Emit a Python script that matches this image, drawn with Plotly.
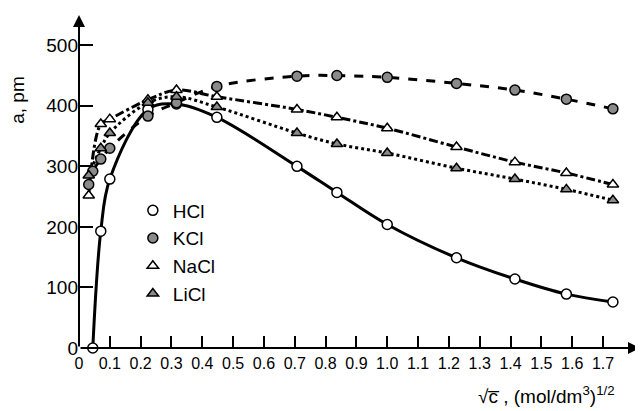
import plotly.graph_objects as go

# sqrt(c) values, (mol/dm3)^1/2
x_hcl = [0.0447, 0.0707, 0.1, 0.2236, 0.3162, 0.4472, 0.7071, 0.8367, 1.0, 1.2247, 1.4142, 1.5811, 1.7321]
y_hcl = [0, 193, 279, 394, 403, 381, 300, 257, 204, 149, 114, 89, 76]

x_kcl = [0.0316, 0.0447, 0.0707, 0.1, 0.2236, 0.3162, 0.4472, 0.7071, 0.8367, 1.0, 1.2247, 1.4142, 1.5811, 1.7321]
y_kcl = [270, 292, 312, 330, 383, 405, 432, 449, 450, 447, 437, 426, 411, 395]

x_nacl = [0.0316, 0.0707, 0.1, 0.2236, 0.3162, 0.4472, 0.7071, 0.8367, 1.0, 1.2247, 1.4142, 1.5811, 1.7321]
y_nacl = [252, 370, 378, 410, 426, 415, 394, 381, 363, 332, 307, 289, 270]

x_licl = [0.0316, 0.0707, 0.1, 0.2236, 0.3162, 0.4472, 0.7071, 0.8367, 1.0, 1.2247, 1.4142, 1.5811, 1.7321]
y_licl = [285, 330, 355, 405, 415, 398, 355, 337, 322, 297, 279, 262, 244]

x_ticks = [0, 0.1, 0.2, 0.3, 0.4, 0.5, 0.6, 0.7, 0.8, 0.9, 1.0, 1.1, 1.2, 1.3, 1.4, 1.5, 1.6, 1.7]
x_ticktext = ["0", "0.1", "0.2", "0.3", "0.4", "0.5", "0.6", "0.7", "0.8", "0.9", "1.0", "1.1", "1.2", "1.3", "1.4", "1.5", "1.6", "1.7"]
y_ticks = [0, 100, 200, 300, 400, 500]

FONT = "Liberation Sans, Arial, sans-serif"

series = [
    ("HCl", x_hcl, y_hcl, "solid", "circle", "white"),
    ("KCl", x_kcl, y_kcl, "dash", "circle", "#8a8a8a"),
    ("NaCl", x_nacl, y_nacl, "dashdot", "triangle-up", "white"),
    ("LiCl", x_licl, y_licl, "dot", "triangle-up", "#8a8a8a"),
]

fig = go.Figure()
for name, xs, ys, dash, sym, fill in series:
    fig.add_trace(go.Scatter(
        x=xs, y=ys, mode="lines", showlegend=False,
        line=dict(color="black", width=3, dash=dash, shape="spline", smoothing=1.0),
        cliponaxis=False,
    ))
for name, xs, ys, dash, sym, fill in series:
    fig.add_trace(go.Scatter(
        x=xs, y=ys, mode="markers", name=name,
        marker=dict(symbol=sym, size=10, color=fill, line=dict(color="black", width=1.5)),
        cliponaxis=False,
    ))

fig.update_layout(
    width=643, height=411,
    margin=dict(l=71, r=11, t=7, b=71),
    plot_bgcolor="white", paper_bgcolor="white",
    font=dict(family=FONT, size=17, color="black"),
    legend=dict(x=0.096, y=0.47, xanchor="left", yanchor="top",
                bgcolor="rgba(0,0,0,0)", font=dict(size=19), tracegroupgap=0),
    xaxis=dict(range=[0, 1.82], tickvals=x_ticks, ticktext=x_ticktext,
               ticks="inside", ticklen=12, tickwidth=1.5, tickcolor="black",
               showgrid=False, zeroline=False, showline=False, automargin=False,
               ticklabelstandoff=4, tickfont=dict(size=16)),
    yaxis=dict(range=[0, 550], tickvals=y_ticks,
               ticks="inside", ticklen=14, tickwidth=1.5, tickcolor="black",
               showgrid=False, zeroline=False, showline=False, automargin=False,
               tickfont=dict(size=19)),
)

# axes with arrows
fig.add_annotation(x=0, y=550, ax=0, ay=0, xref="x", yref="y", axref="x", ayref="y",
                   showarrow=True, arrowhead=2, arrowsize=1.2, arrowwidth=2, arrowcolor="black", text="")
fig.add_annotation(x=1.82, y=0, ax=0, ay=0, xref="x", yref="y", axref="x", ayref="y",
                   showarrow=True, arrowhead=2, arrowsize=1.2, arrowwidth=2, arrowcolor="black", text="")

fig.add_annotation(text="a, pm", textangle=-90, xref="paper", yref="paper",
                   x=-0.109, y=0.745, showarrow=False, font=dict(size=19), xanchor="center", yanchor="middle")
fig.add_annotation(text="√c̅ , (mol/dm<sup>3</sup>)<sup>1/2</sup>", xref="paper", yref="paper",
                   x=0.959, y=-0.141, showarrow=False, font=dict(size=19), xanchor="right", yanchor="middle")

fig.write_html("out.html")
